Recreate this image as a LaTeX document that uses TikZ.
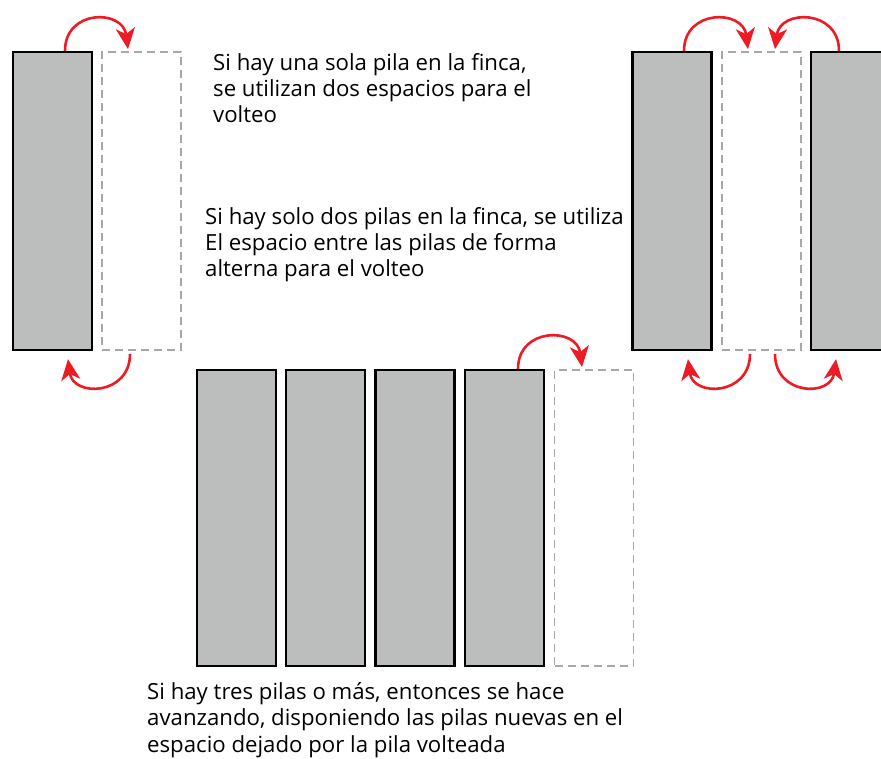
\documentclass[tikz,border=0pt]{standalone}
\usepackage{fontspec}
\setmainfont{Open Sans}
\usetikzlibrary{arrows.meta}

\definecolor{pilagris}{HTML}{BCBEBD}
\definecolor{huecogris}{HTML}{A8A8A8}
\definecolor{giroro}{HTML}{ED1C24}

\begin{document}
\begin{tikzpicture}[x=1pt,y=-1pt,
  pila/.style={draw=black, line width=2.2pt, fill=pilagris, inner sep=0pt, minimum width=79pt},
  hueco/.style={draw=huecogris, line width=1.8pt, dash pattern=on 8pt off 5pt, inner sep=0pt, minimum width=79pt},
  giro/.style={draw=giroro, line width=2.6pt, -{Stealth[length=21pt,width=19pt,inset=6pt]}},
  texto/.style={anchor=base west, align=left, inner sep=0pt, font=\fontsize{22.2}{26.3}\selectfont}]
\useasboundingbox (0,0) rectangle (881,759);

% una sola pila
\node[pila, minimum height=298pt] (p1) at (52.5,201) {};
\node[hueco, minimum height=298pt] (h1) at (141.5,201) {};
\draw[giro] ([xshift=12.5pt]p1.north) .. controls +(0,-42) and +(-5,-40) .. ([xshift=-13.5pt,yshift=2pt]h1.north);
\draw[giro] ([xshift=-11.5pt,yshift=-3pt]h1.south) .. controls +(0,42) and +(5,38) .. ([xshift=15.5pt,yshift=-8pt]p1.south);

% dos pilas
\node[pila, minimum height=298pt] (p2) at (672,201) {};
\node[hueco, minimum height=298pt] (h2) at (761.5,201) {};
\node[pila, minimum height=298pt] (p3) at (850.5,201) {};
\draw[giro] ([xshift=12pt]p2.north) .. controls +(0,-42) and +(-5,-40) .. ([xshift=-13.5pt,yshift=2pt]h2.north);
\draw[giro] ([xshift=-11.5pt]p3.north) .. controls +(0,-42) and +(5,-40) .. ([xshift=13.5pt,yshift=2pt]h2.north);
\draw[giro] ([xshift=-11.5pt,yshift=-3pt]h2.south) .. controls +(0,42) and +(5,38) .. ([xshift=16pt,yshift=-8pt]p2.south);
\draw[giro] ([xshift=13.5pt,yshift=-3pt]h2.south) .. controls +(0,42) and +(-5,38) .. ([xshift=-14.5pt,yshift=-8pt]p3.south);

% tres pilas o mas
\node[pila, minimum height=296pt] (q1) at (236.5,518) {};
\node[pila, minimum height=296pt] (q2) at (325.5,518) {};
\node[pila, minimum height=296pt] (q3) at (415,518) {};
\node[pila, minimum height=296pt] (q4) at (504.5,518) {};
\node[hueco, minimum height=296pt] (h3) at (594,518) {};
\draw[giro] ([xshift=13.5pt]q4.north) .. controls +(0,-42) and +(-5,-40) .. ([xshift=-12pt,yshift=2pt]h3.north);

% textos
\node[texto] (t1) at (213,123) {Si hay una sola pila en la finca,\\se utilizan dos espacios para el\\volteo};
\node[texto] (t2) at (205,277) {Si hay solo dos pilas en la finca, se utiliza\\El espacio entre las pilas de forma\\alterna para el volteo};
\node[texto] (t3) at (147,752) {Si hay tres pilas o más, entonces se hace\\avanzando, disponiendo las pilas nuevas en el\\espacio dejado por la pila volteada};
\end{tikzpicture}
\end{document}
